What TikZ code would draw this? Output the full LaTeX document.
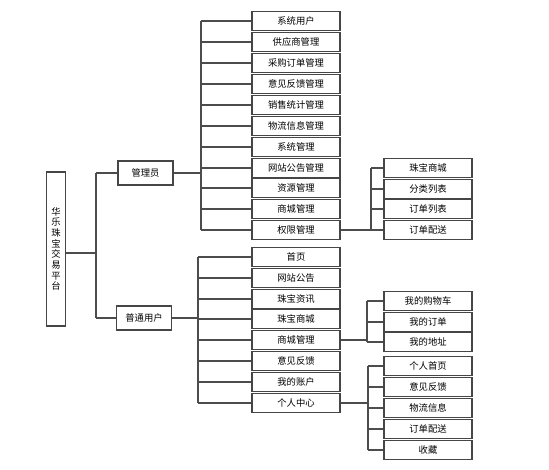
\documentclass[tikz,border=0pt]{standalone}
\usepackage{fontspec}
\setmainfont{Noto Sans CJK SC}
\begin{document}
\begin{tikzpicture}[x=0.75pt,y=-0.75pt,
  box/.style={draw=gray!55!black,line width=0.9pt,fill=white,minimum width=66pt,minimum height=14.25pt,inner sep=0pt,font=\fontsize{7}{8}\selectfont},
  role/.style={box,minimum width=41.25pt,minimum height=18pt},
  rootbox/.style={draw=gray!55!black,line width=0.9pt,fill=white,minimum width=14pt,minimum height=115.5pt,inner sep=0pt,align=center,font=\fontsize{7}{8}\selectfont},
  conn/.style={draw=gray!60!black,line width=0.8pt}]
\useasboundingbox (0,0) rectangle (549,470);
% root
\node[rootbox] (root) at (56,249) {华\\乐\\珠\\宝\\交\\易\\平\\台};
\node[role] (admin) at (145.5,173) {管理员};
\node[role] (user) at (144,318) {普通用户};
\coordinate (b0) at (96,253);
\draw[conn] (root.east |- b0) -- (b0);
\draw[conn] (b0 |- admin.west) -- (b0 |- user.west);
\draw[conn] (admin.west) -- (b0 |- admin.west);
\draw[conn] (user.west) -- (b0 |- user.west);
% admin children
\foreach \t/\y/\n in {系统用户/21/a1,供应商管理/42/a2,采购订单管理/63/a3,意见反馈管理/84/a4,销售统计管理/105/a5,物流信息管理/126/a6,系统管理/147/a7,网站公告管理/168/a8,资源管理/188/a9,商城管理/209/a10,权限管理/230/a11}
  \node[box] (\n) at (296,\y) {\t};
\coordinate (ba) at (201,173);
\draw[conn] (admin.east) -- (ba);
\draw[conn] (ba |- a1.west) -- (ba |- a11.west);
\foreach \n in {a1,a2,a3,a4,a5,a6,a7,a8,a9,a10,a11}
  \draw[conn] (\n.west) -- (ba |- \n.west);
% admin permissions children
\foreach \t/\y/\n in {珠宝商城/168/p1,分类列表/189/p2,订单列表/209/p3,订单配送/230/p4}
  \node[box] (\n) at (428,\y) {\t};
\coordinate (bp) at (371,230);
\draw[conn] (a11.east) -- (bp);
\draw[conn] (bp |- p1.west) -- (bp |- p4.west);
\foreach \n in {p1,p2,p3,p4}
  \draw[conn] (\n.west) -- (bp |- \n.west);
% user children
\foreach \t/\y/\n in {首页/257/u1,网站公告/278/u2,珠宝资讯/299/u3,珠宝商城/319/u4,商城管理/340/u5,意见反馈/361/u6,我的账户/382/u7,个人中心/403/u8}
  \node[box] (\n) at (296,\y) {\t};
\coordinate (bu) at (198,318);
\draw[conn] (user.east) -- (bu);
\draw[conn] (bu |- u1.west) -- (bu |- u8.west);
\foreach \n in {u1,u2,u3,u4,u5,u6,u7,u8}
  \draw[conn] (\n.west) -- (bu |- \n.west);
% shop management children
\foreach \t/\y/\n in {我的购物车/301/s1,我的订单/322/s2,我的地址/342/s3}
  \node[box] (\n) at (428,\y) {\t};
\coordinate (bs) at (367,340);
\draw[conn] (u5.east) -- (bs);
\draw[conn] (bs |- s1.west) -- (bs |- s3.west);
\foreach \n in {s1,s2,s3}
  \draw[conn] (\n.west) -- (bs |- \n.west);
% personal center children
\foreach \t/\y/\n in {个人首页/366/c1,意见反馈/387/c2,物流信息/408/c3,订单配送/429/c4,收藏/450/c5}
  \node[box] (\n) at (428,\y) {\t};
\coordinate (bc) at (368,403);
\draw[conn] (u8.east) -- (bc);
\draw[conn] (bc |- c1.west) -- (bc |- c5.west);
\foreach \n in {c1,c2,c3,c4,c5}
  \draw[conn] (\n.west) -- (bc |- \n.west);
\end{tikzpicture}
\end{document}
